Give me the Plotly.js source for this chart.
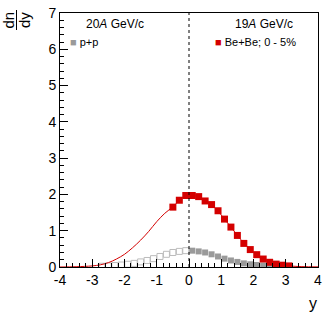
<!DOCTYPE html>
<html><head><meta charset="utf-8">
<script src="https://cdn.plot.ly/plotly-3.0.1.min.js"></script>
<style>html,body{margin:0;padding:0;background:#fff}#c{width:332px;height:319px}</style>
</head><body><div id="c"></div>
<script>
// Be+Be 0-5% (measured, filled red squares)
const beX = [-0.5,-0.3,-0.1,0.1,0.3,0.5,0.7,0.9,1.1,1.3,1.5,1.7,1.9,2.1,2.3,2.5,2.7,2.9,3.1];
const beY = [1.65,1.84,1.97,1.97,1.94,1.82,1.72,1.55,1.32,1.10,0.87,0.65,0.48,0.34,0.22,0.13,0.08,0.05,0.03];
// Be+Be fit curve
const fitX = [-4,-3.5,-3,-2.75,-2.5,-2.25,-2,-1.75,-1.5,-1.25,-1,-0.75,-0.5,-0.3,-0.1,0.1,0.3,0.5,0.7,0.9,1.1,1.3,1.5,1.7,1.9,2.1,2.3,2.5,2.7,2.9,3.1,3.5,4];
const fitY = [0.0,0.008,0.03,0.06,0.12,0.22,0.35,0.53,0.74,0.98,1.25,1.48,1.66,1.84,1.96,1.97,1.93,1.83,1.71,1.54,1.32,1.10,0.87,0.66,0.48,0.34,0.22,0.14,0.08,0.05,0.03,0.01,0.003];
// p+p measured (filled gray squares, y>0)
const ppX = [0.1,0.3,0.5,0.7,0.9,1.1,1.3,1.5,1.7,1.9,2.1,2.3,2.5,2.7];
const ppY = [0.45,0.43,0.40,0.35,0.29,0.23,0.18,0.14,0.10,0.075,0.055,0.04,0.03,0.02];
// p+p reflected (open gray squares, y<0)
const ppRX = ppX.map(v => -v);
const ppRY = ppY.slice();

const tickVals = [-4,-3,-2,-1,0,1,2,3,4];
const tickText = ['-4','-3','-2','-1','0','1','2','3','4'];
const yTickVals = [0,1,2,3,4,5,6,7];

const red = '#d40000', gray = '#9a9a9a', lgray = '#bcbcbc';
const traces = [
  {x: ppRX, y: ppRY, mode:'markers', type:'scatter', marker:{symbol:'square-open', size:6, color:lgray, line:{width:1,color:lgray}}},
  {x: ppX, y: ppY, mode:'markers', type:'scatter', marker:{symbol:'square', size:6, color:gray}},
  {x: fitX, y: fitY, mode:'lines', type:'scatter', line:{color:red, width:1, shape:'spline'}},
  {x: beX, y: beY, mode:'markers', type:'scatter', marker:{symbol:'square', size:7, color:red}}
];
const F = 'Liberation Sans, Arial, sans-serif';
const W = 258, H = 254, L = 60, B = 267;
const px = v => (v - L) / W, py = v => (B - v) / H;
const layout = {
  width:332, height:319, showlegend:false,
  margin:{l:60, r:14, t:13, b:52},
  paper_bgcolor:'#fff', plot_bgcolor:'#fff',
  font:{family:F, color:'#000'},
  xaxis:{range:[-4,4], tickvals:tickVals, ticktext:tickText, ticks:'inside', ticklen:8, tickwidth:1, tickcolor:'#000',
    showline:true, linecolor:'#000', linewidth:1, mirror:true, showgrid:false, zeroline:false,
    tickfont:{size:14, family:F}, minor:{dtick:0.2, ticks:'inside', ticklen:4, tickcolor:'#000', showgrid:false}},
  yaxis:{range:[0,7], tickvals:yTickVals, ticks:'inside', ticklen:8, tickwidth:1, tickcolor:'#000',
    showline:true, linecolor:'#000', linewidth:1, mirror:true, showgrid:false, zeroline:false,
    tickfont:{size:14, family:F}, ticklabelstandoff:0, minor:{dtick:0.2, ticks:'inside', ticklen:4, tickcolor:'#000', showgrid:false}},
  shapes:[
    {type:'line', xref:'x', yref:'y', x0:0, x1:0, y0:0, y1:7, line:{color:'#000', width:1, dash:'dot'}},
    {type:'line', xref:'paper', yref:'paper', x0:px(16.5), x1:px(16.5), y0:py(10), y1:py(30), line:{color:'#000', width:1}}
  ],
  annotations:[
    {xref:'paper', yref:'paper', x:px(115), y:py(24), text:'20<i>A</i> GeV/c', showarrow:false, font:{size:12, family:F}, xanchor:'center', yanchor:'middle'},
    {xref:'paper', yref:'paper', x:px(264), y:py(24), text:'19<i>A</i> GeV/c', showarrow:false, font:{size:12, family:F}, xanchor:'center', yanchor:'middle'},
    {xref:'paper', yref:'paper', x:px(68), y:py(42), text:'<span style="color:'+gray+'">■</span> p+p', showarrow:false, font:{size:11, family:F}, xanchor:'left', yanchor:'middle'},
    {xref:'paper', yref:'paper', x:px(213), y:py(42), text:'<span style="color:'+red+'">■</span> Be+Be; 0 - 5%', showarrow:false, font:{size:11, family:F}, xanchor:'left', yanchor:'middle'},
    {xref:'paper', yref:'paper', x:px(8.5), y:py(20), text:'dn', textangle:-90, showarrow:false, font:{size:15, family:F}, xanchor:'center', yanchor:'middle'},
    {xref:'paper', yref:'paper', x:px(25), y:py(20), text:'dy', textangle:-90, showarrow:false, font:{size:15, family:F}, xanchor:'center', yanchor:'middle'},
    {xref:'paper', yref:'paper', x:px(313), y:py(303), text:'y', showarrow:false, font:{size:16, family:F}, xanchor:'center', yanchor:'middle'}
  ]
};
Plotly.newPlot('c', traces, layout, {staticPlot:true, displayModeBar:false});
</script></body></html>
